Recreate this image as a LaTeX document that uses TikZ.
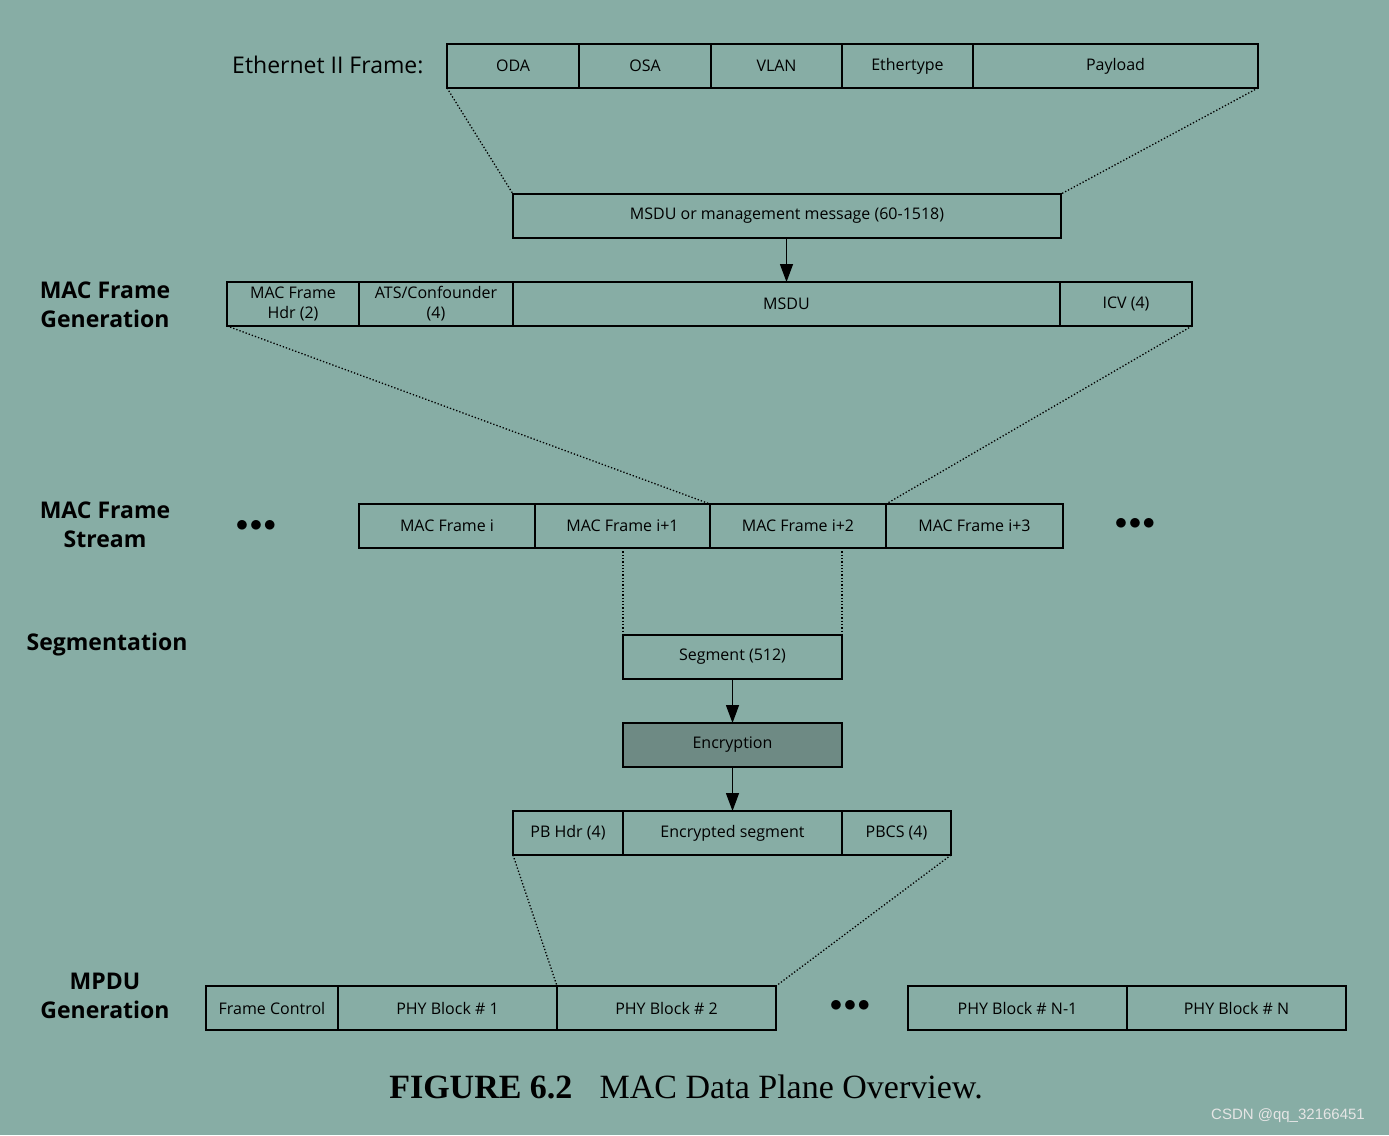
\documentclass[tikz,border=0pt]{standalone}
\usepackage{fontspec}
\setmainfont{Open Sans}
\newfontfamily\capfont{Liberation Serif}
\newfontfamily\wmfont{Liberation Sans}
\usetikzlibrary{arrows.meta}
\definecolor{bg}{HTML}{87ADA5}
\definecolor{enc}{HTML}{6E8A84}
\newcommand{\bx}[6]{\node[box,minimum width=#3-#2,minimum height=#5-#4] (#1) at ({(#2+#3)/2},{(#4+#5)/2}) {#6};}
\begin{document}
\begin{tikzpicture}[x=1pt,y=-1pt,
  box/.style={draw,line width=1.4pt,inner sep=0pt,outer sep=0pt,font=\fontsize{16}{20}\selectfont,align=center},
  lab/.style={font=\fontsize{23}{29}\selectfont\bfseries,align=center},
  dot/.style={dotted,line width=1.3pt},
  arr/.style={-{Triangle[length=18pt,width=13pt]},line width=1.4pt},
  dots/.style={font=\fontsize{26}{26}\selectfont\bfseries}]
\fill[bg] (0,0) rectangle (1389,1135);
\useasboundingbox (0,0) rectangle (1389,1135);
\node[anchor=east,font=\fontsize{23}{25}\selectfont] (eth) at (427,65) {Ethernet II Frame:};
\bx{oda}{447}{579}{44}{88}{ODA}
\bx{osa}{579}{711}{44}{88}{OSA}
\bx{vlan}{711}{842}{44}{88}{VLAN}
\bx{et}{842}{973}{44}{88}{Ethertype}
\bx{pl}{973}{1258}{44}{88}{Payload}
\bx{msdum}{513}{1061}{194}{238}{MSDU or management message (60-1518)}
\draw[dot] (oda.south west) -- (msdum.north west);
\draw[dot] (pl.south east) -- (msdum.north east);
\node[lab] (l1) at (105,305) {MAC Frame\\Generation};
\bx{hdr}{227}{359}{282}{326}{MAC Frame\\Hdr (2)}
\bx{ats}{359}{513}{282}{326}{ATS/Confounder\\(4)}
\bx{msdu}{513}{1060}{282}{326}{MSDU}
\bx{icv}{1060}{1192}{282}{326}{ICV (4)}
\draw[arr] (msdum.south -| msdu.north) -- (msdu.north);
\node[lab] (l2) at (105,525) {MAC Frame\\Stream};
\node[dots] (d1) at (256,526) {$\bullet\!\bullet\!\bullet$};
\bx{f1}{359}{535}{504}{548}{MAC Frame i}
\bx{f2}{535}{710}{504}{548}{MAC Frame i+1}
\bx{f3}{710}{886}{504}{548}{MAC Frame i+2}
\bx{f4}{886}{1063}{504}{548}{MAC Frame i+3}
\node[dots] (d2) at (1135,524) {$\bullet\!\bullet\!\bullet$};
\draw[dot] (hdr.south west) -- (f3.north west);
\draw[dot] (icv.south east) -- (f4.north west);
\node[lab] (l3) at (107,645) {Segmentation};
\bx{seg}{623}{842}{635}{679}{Segment (512)}
\draw[dot] (f2.south -| seg.north west) -- (seg.north west);
\draw[dot] (f3.south -| seg.north east) -- (seg.north east);
\node[box,fill=enc,minimum width=219,minimum height=44] (enc) at (732.5,745) {Encryption};
\draw[arr] (seg) -- (enc);
\bx{pbh}{513}{623}{811}{855}{PB Hdr (4)}
\bx{es}{623}{842}{811}{855}{Encrypted segment}
\bx{pbcs}{842}{951}{811}{855}{PBCS (4)}
\draw[arr] (enc) -- (es);
\node[lab] (l4) at (105,996) {MPDU\\Generation};
\bx{fc}{206}{338}{986}{1030}{Frame Control}
\bx{p1}{338}{557}{986}{1030}{PHY Block \# 1}
\bx{p2}{557}{776}{986}{1030}{PHY Block \# 2}
\node[dots] (d3) at (850,1006) {$\bullet\!\bullet\!\bullet$};
\bx{pn1}{908}{1127}{986}{1030}{PHY Block \# N-1}
\bx{pn}{1127}{1346}{986}{1030}{PHY Block \# N}
\draw[dot] (pbh.south west) -- (p2.north west);
\draw[dot] (pbcs.south east) -- (p2.north east);
\node[font=\capfont\fontsize{34}{36}\selectfont] (cap) at (686,1087) {\textbf{FIGURE 6.2}\hspace{0.8em}MAC Data Plane Overview.};
\node[font=\wmfont\fontsize{15}{16}\selectfont,text=white!80!gray] (wm) at (1288,1116) {CSDN @qq\_32166451};
\end{tikzpicture}
\end{document}
